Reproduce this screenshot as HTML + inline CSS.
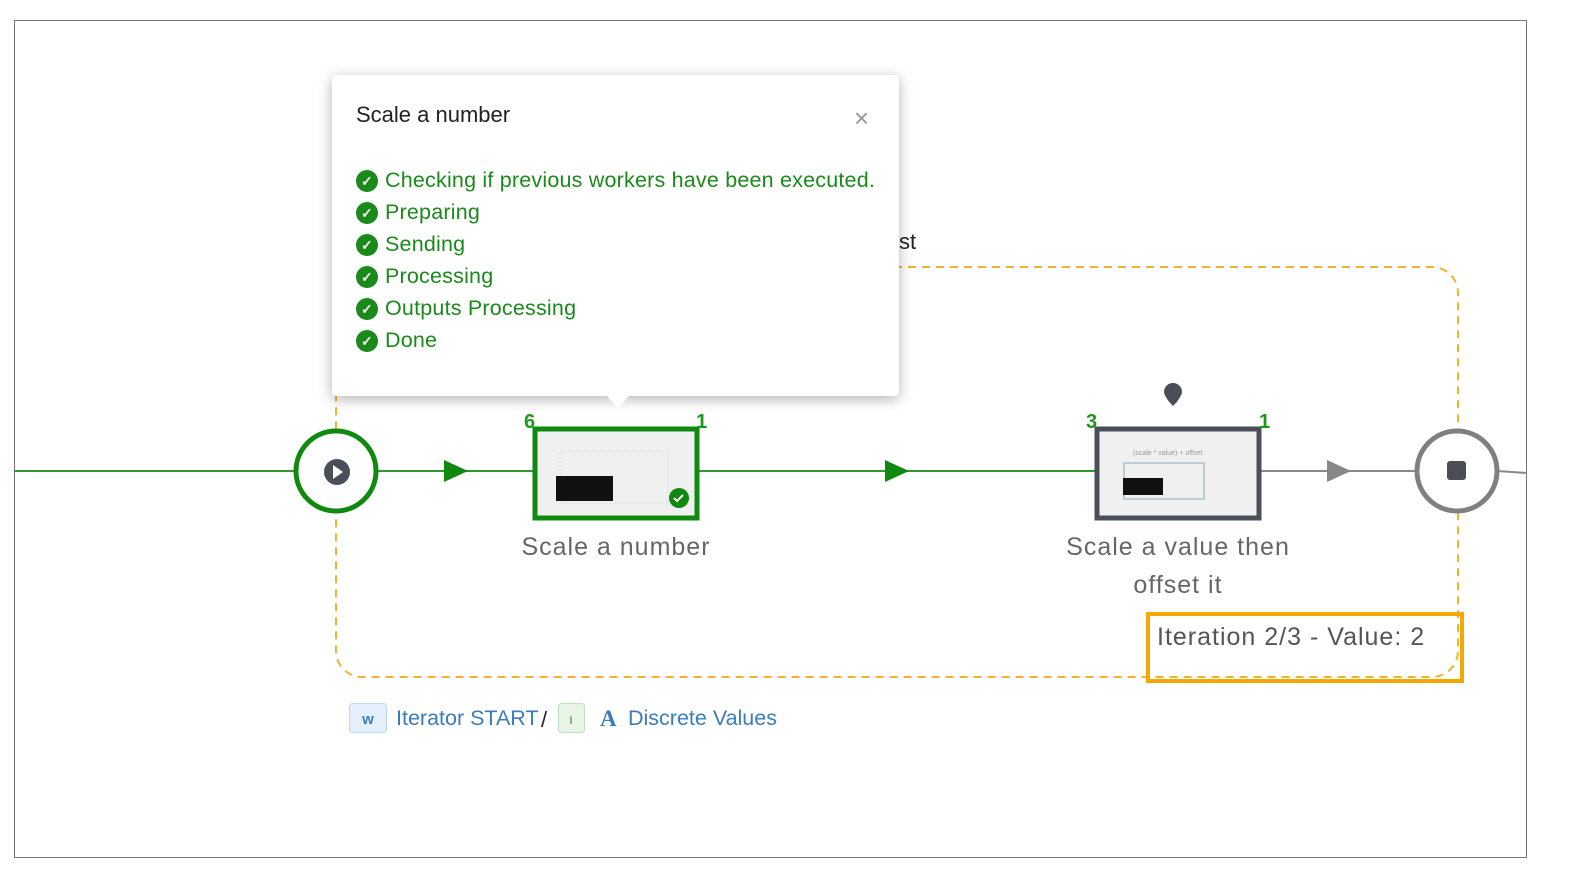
<!DOCTYPE html>
<html><head><style>
body{margin:0;background:#fff;width:1581px;height:889px;overflow:hidden;font-family:"Liberation Sans",sans-serif}
.pop{position:absolute;left:332px;top:75px;width:567px;height:321px;background:#fff;border-radius:4px;box-shadow:0 3px 14px rgba(0,0,0,.3)}
.pop .t{position:absolute;left:24px;top:27px;font-size:22px;color:#222}
.pop .x{position:absolute;left:522px;top:28px;font-size:26px;color:#999}
.row{position:absolute;left:24px;font-size:21.5px;color:#1a8a1a;display:flex;align-items:center;letter-spacing:0.2px}
.ck{width:22px;height:22px;border-radius:50%;background:#1a8a1a;color:#fff;font-size:14px;line-height:22px;text-align:center;margin-right:7px;font-weight:bold}
.arr{position:absolute;left:605px;top:394px;width:0;height:0;border-left:13px solid transparent;border-right:13px solid transparent;border-top:14px solid #fff}
</style></head><body>
<svg width="1581" height="889" style="position:absolute;left:0;top:0" font-family="Liberation Sans, sans-serif">
<rect x="14.5" y="20.5" width="1512" height="837" fill="none" stroke="#777" stroke-width="1"/>
<rect x="336" y="267" width="1122" height="410" rx="26" fill="none" stroke="#f5b030" stroke-width="2" stroke-dasharray="8,6"/>
<text x="899" y="249" font-size="22" fill="#222">st</text>
<line x1="14" y1="471" x2="295" y2="471" stroke="#2e9a2e" stroke-width="2"/>
<line x1="377" y1="471" x2="535" y2="471" stroke="#2e9a2e" stroke-width="2"/>
<polygon points="444,460 468,471 444,482" fill="#0f8a0f"/>
<line x1="697" y1="471" x2="1097" y2="471" stroke="#2e9a2e" stroke-width="2"/>
<polygon points="885,460 909,471 885,482" fill="#0f8a0f"/>
<line x1="1259" y1="471" x2="1417" y2="471" stroke="#888" stroke-width="2"/>
<polygon points="1327,460 1351,471 1327,482" fill="#888"/>
<line x1="1497" y1="471" x2="1527" y2="473" stroke="#888" stroke-width="2"/>
<circle cx="336" cy="471" r="40" fill="#fff" stroke="#0f8a0f" stroke-width="5"/>
<circle cx="337" cy="472" r="13" fill="#4a4f57"/>
<polygon points="333,465 343,472 333,479" fill="#fff"/>
<circle cx="1457" cy="471" r="40" fill="#fff" stroke="#808080" stroke-width="5"/>
<rect x="1447" y="461" width="19" height="19" rx="3" fill="#4a4f57"/>
<rect x="535" y="429" width="162" height="89" fill="#f0f0f0" stroke="#0f8a0f" stroke-width="5"/>
<rect x="560" y="451" width="108" height="52" fill="none" stroke="#cde" stroke-dasharray="2,2"/>
<rect x="556" y="476" width="57" height="25" fill="#111"/>
<circle cx="679" cy="498" r="10" fill="#0f8a0f"/>
<path d="M674 498 l3 3 l6 -6" stroke="#fff" stroke-width="2" fill="none"/>
<text x="524" y="428" font-size="20" fill="#1a9a1a" font-weight="bold">6</text>
<text x="696" y="428" font-size="20" fill="#1a9a1a" font-weight="bold">1</text>
<rect x="1097" y="429" width="162" height="89" fill="#f0f0f0" stroke="#4a4f57" stroke-width="5"/>
<text x="1133" y="455" font-size="7" fill="#999">(scale * value) + offset</text>
<rect x="1124" y="463" width="80" height="36" fill="none" stroke="#8ab" stroke-width="1"/>
<rect x="1123" y="478" width="40" height="17" fill="#111"/>
<text x="1086" y="428" font-size="20" fill="#1a9a1a" font-weight="bold">3</text>
<text x="1259" y="428" font-size="20" fill="#1a9a1a" font-weight="bold">1</text>
<path d="M1173 406 C1165 398 1164 393 1164 392 A9 9 0 1 1 1182 392 C1182 393 1181 398 1173 406Z" fill="#4a4f57"/>
<text x="616" y="555" font-size="25" fill="#666" text-anchor="middle" letter-spacing="1">Scale a number</text>
<text x="1178" y="555" font-size="25" fill="#666" text-anchor="middle" letter-spacing="1">Scale a value then</text>
<text x="1178" y="593" font-size="25" fill="#666" text-anchor="middle" letter-spacing="1">offset it</text>
<rect x="1148" y="614" width="314" height="67" fill="none" stroke="#f5a800" stroke-width="4"/>
<text x="1157" y="645" font-size="25" fill="#555" letter-spacing="1">Iteration 2/3 - Value: 2</text>
<rect x="349.5" y="703.5" width="37" height="29" rx="3" fill="#e3f0fc" stroke="#bcd8f0"/>
<text x="368" y="724" font-size="15" fill="#3a7cc0" text-anchor="middle" font-weight="bold">w</text>
<text x="396" y="725" font-size="21.5" fill="#3a7cc0">Iterator START</text>
<text x="541" y="727" font-size="22" fill="#222">/</text>
<rect x="558.5" y="703.5" width="26" height="29" rx="3" fill="#e8f4e6" stroke="#bfe0bc"/>
<text x="571" y="724" font-size="14" fill="#3a9a3a" text-anchor="middle">ı</text>
<text x="600" y="726" font-size="23" fill="#3a7cc0" font-weight="bold" font-family="Liberation Serif, serif">A</text>
<text x="628" y="725" font-size="21.5" fill="#3a7cc0">Discrete Values</text>
</svg>
<div class="pop">
<div class="t">Scale a number</div><div class="x">×</div>
<div class="row" style="top:93px"><span class="ck">✓</span>Checking if previous workers have been executed.</div>
<div class="row" style="top:125px"><span class="ck">✓</span>Preparing</div>
<div class="row" style="top:157px"><span class="ck">✓</span>Sending</div>
<div class="row" style="top:189px"><span class="ck">✓</span>Processing</div>
<div class="row" style="top:221px"><span class="ck">✓</span>Outputs Processing</div>
<div class="row" style="top:253px"><span class="ck">✓</span>Done</div>
</div>
<div class="arr"></div>
</body></html>
